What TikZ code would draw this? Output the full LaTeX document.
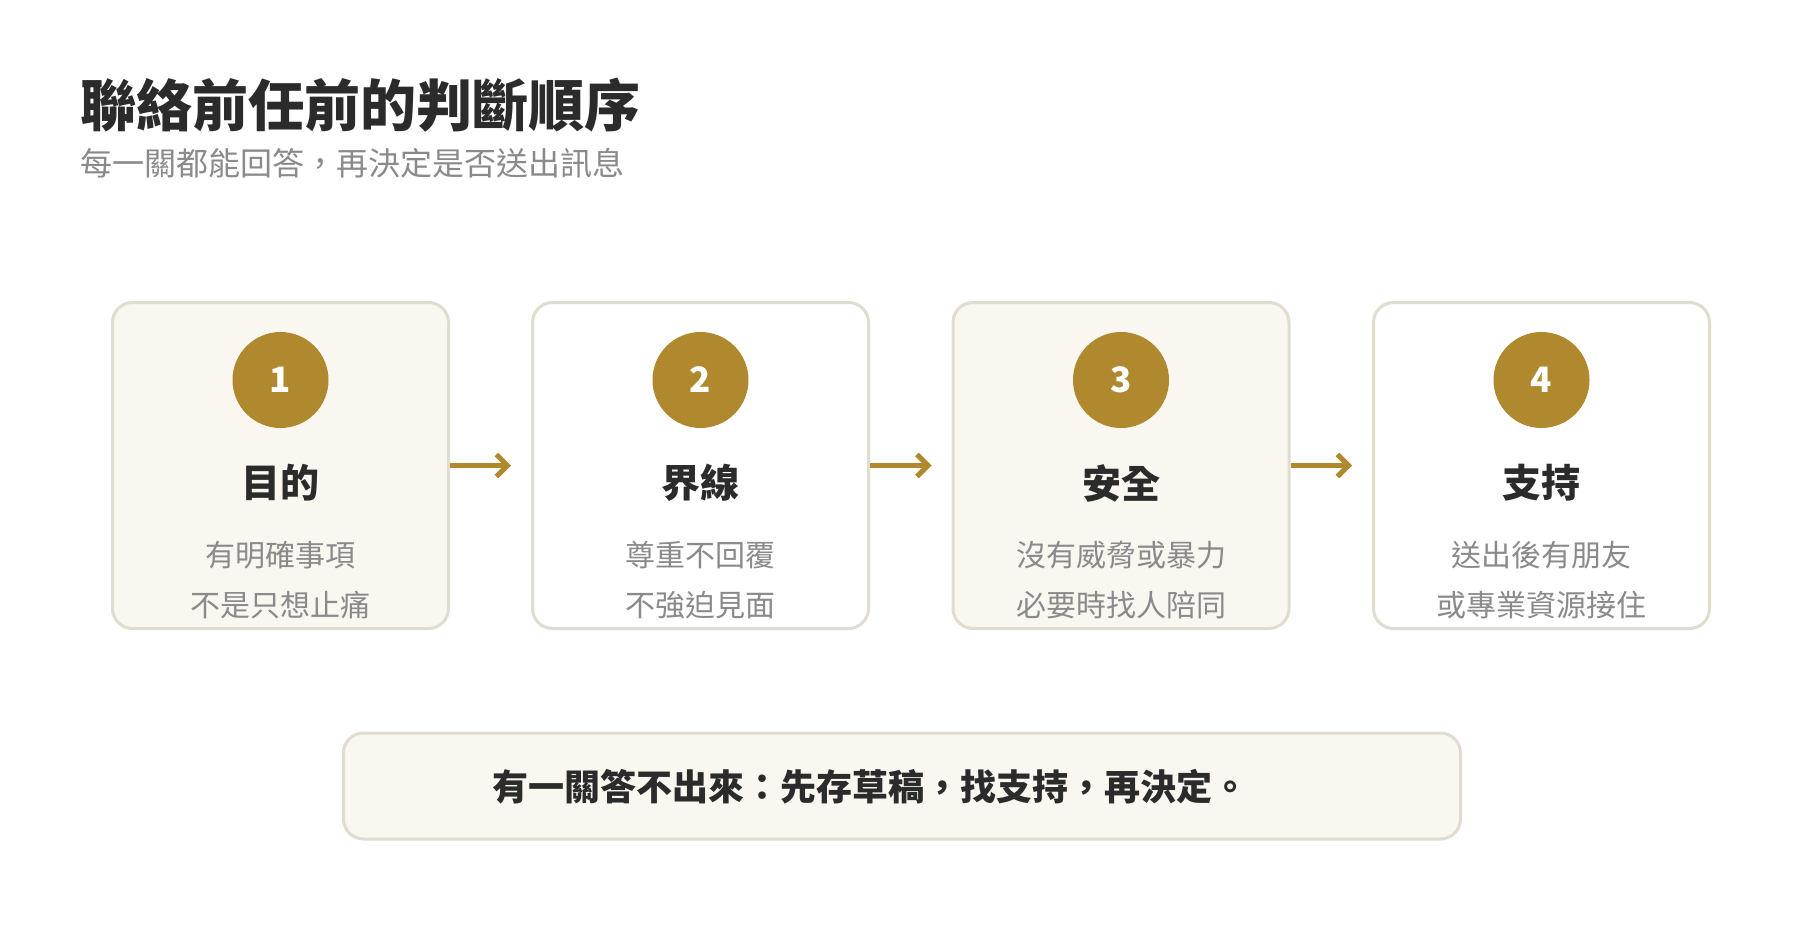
\documentclass[tikz,border=0pt]{standalone}
\usepackage{fontspec}
\setmainfont{Noto Sans CJK TC}
\usetikzlibrary{arrows.meta}
\definecolor{gold}{HTML}{B0882D}
\definecolor{cardfill}{HTML}{F9F7F0}
\definecolor{cardline}{HTML}{E0DCD0}
\definecolor{darktext}{HTML}{2B2B2B}
\definecolor{graytext}{HTML}{8A8A8A}
\tikzset{
  card/.style={draw=cardline, line width=3pt, rounded corners=20pt, minimum width=336pt, minimum height=326pt, inner sep=0pt},
  tintcard/.style={card, fill=cardfill},
  plaincard/.style={card, fill=white},
  badge/.style={circle, fill=gold, minimum size=96pt, inner sep=0pt, text=white, font=\fontsize{35}{35}\selectfont\bfseries},
  heading/.style={inner sep=0pt, text=darktext, font=\fontsize{39}{39}\selectfont\bfseries},
  bodytext/.style={inner sep=0pt, text=graytext, align=center, font=\fontsize{30}{50}\selectfont},
  flow/.style={draw=gold, line width=5pt, -{Straight Barb[length=11pt,width=22pt]}},
  notebox/.style={draw=cardline, fill=cardfill, line width=3pt, rounded corners=20pt, minimum width=1117pt, minimum height=106pt, inner sep=0pt},
  notetext/.style={inner sep=0pt, text=darktext, font=\fontsize{36}{36}\selectfont\bfseries}
}
\begin{document}
\begin{tikzpicture}[x=1pt,y=-1pt]
\useasboundingbox (0,0) rectangle (1800,940);
\fill[white] (0,0) rectangle (1800,940);

\node[anchor=west, inner sep=0pt, text=darktext, font=\fontsize{56}{56}\selectfont\bfseries] (title) at (80,105) {聯絡前任前的判斷順序};
\node[anchor=west, inner sep=0pt, text=graytext, font=\fontsize{32}{32}\selectfont] (subtitle) at (80,163) {每一關都能回答，再決定是否送出訊息};

% cards
\node[tintcard] (b1) at (280.5,465.5) {};
\node[plaincard] (b2) at (700.5,465.5) {};
\node[tintcard] (b3) at (1121,465.5) {};
\node[plaincard] (b4) at (1541.5,465.5) {};

\node[badge] (c1) at (b1.center |- 0,380) {1};
\node[badge] (c2) at (b2.center |- 0,380) {2};
\node[badge] (c3) at (b3.center |- 0,380) {3};
\node[badge] (c4) at (b4.center |- 0,380) {4};

\node[heading] (h1) at (b1.center |- 0,483) {目的};
\node[heading] (h2) at (b2.center |- 0,483) {界線};
\node[heading] (h3) at (b3.center |- 0,483) {安全};
\node[heading] (h4) at (b4.center |- 0,483) {支持};

\node[bodytext] (t1) at (b1.center |- 0,580) {有明確事項\\不是只想止痛};
\node[bodytext] (t2) at (b2.center |- 0,580) {尊重不回覆\\不強迫見面};
\node[bodytext] (t3) at (b3.center |- 0,580) {沒有威脅或暴力\\必要時找人陪同};
\node[bodytext] (t4) at (b4.center |- 0,580) {送出後有朋友\\或專業資源接住};

\draw[flow] (b1.east) -- ([xshift=-20pt]b2.west);
\draw[flow] (b2.east) -- ([xshift=-20pt]b3.west);
\draw[flow] (b3.east) -- ([xshift=-20pt]b4.west);

\node[notebox] (note) at (902,786) {};
\node[notetext] (notet) at (870,787) {有一關答不出來：先存草稿，找支持，再決定。};
\end{tikzpicture}
\end{document}
